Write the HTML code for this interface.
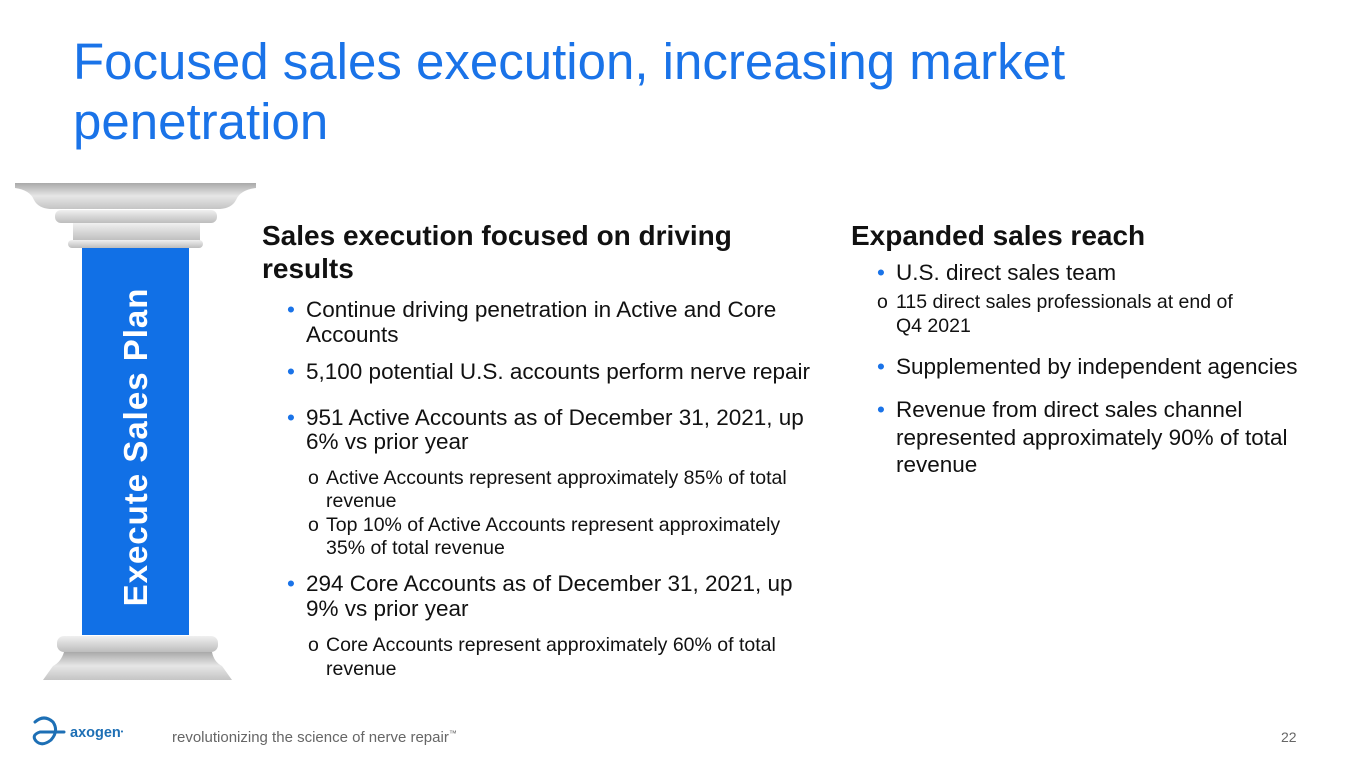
<!DOCTYPE html>
<html><head><meta charset="utf-8"><style>
body{margin:0;width:1365px;height:768px;background:#fff;position:relative;overflow:hidden;font-family:"Liberation Sans",Arial,sans-serif;}
.a{position:absolute;white-space:nowrap;line-height:24px;color:#111;}
.t{position:absolute;left:73px;color:#1a73e8;font-size:51px;line-height:60px;white-space:nowrap;}
.h{font-weight:bold;font-size:28px;}
.b{font-size:22.5px;}
.s{font-size:19.5px;}
.d{color:#1a73e8;}
</style></head><body>
<div class="t" style="top:32px">Focused sales execution, increasing market</div>
<div class="t" style="top:92px">penetration</div>

<svg style="position:absolute;left:0;top:0" width="270" height="768">
<defs>
<linearGradient id="g" x1="0" y1="0" x2="0" y2="1"><stop offset="0" stop-color="#a9a9a9"/><stop offset="0.5" stop-color="#e6e6e6"/><stop offset="1" stop-color="#c4c4c4"/></linearGradient>
<linearGradient id="g2" x1="0" y1="0" x2="0" y2="1"><stop offset="0" stop-color="#f0f0f0"/><stop offset="1" stop-color="#bdbdbd"/></linearGradient>
</defs>
<path d="M15 183 H256 V188 Q240 190 236 200 Q232 208 220 209 H50 Q38 208 34 200 Q30 190 15 188 Z" fill="url(#g)"/>
<rect x="55" y="210" width="162" height="13" rx="6" fill="url(#g2)"/>
<rect x="73" y="223" width="127" height="18" fill="url(#g2)"/>
<rect x="68" y="240" width="135" height="8" rx="4" fill="url(#g2)"/>
<rect x="82" y="248" width="107" height="387" fill="#1170e6"/>
<rect x="57" y="636" width="161" height="16" rx="7" fill="url(#g2)"/>
<path d="M64 652 H212 Q214 662 222 666 L232 680 H43 L53 666 Q61 662 64 652 Z" fill="url(#g)"/>
<text transform="translate(147,447) rotate(-90)" text-anchor="middle" font-family="Liberation Sans" font-weight="bold" font-size="33" fill="#fff" letter-spacing="1">Execute Sales Plan</text>
</svg>

<div class="a h" style="left:262px;top:221px;line-height:30px">Sales execution focused on driving</div>
<div class="a h" style="left:262px;top:254px;line-height:30px">results</div>
<div class="a b d" style="left:287px;top:298px">•</div>
<div class="a b" style="left:306px;top:298px">Continue driving penetration in Active and Core</div>
<div class="a b" style="left:306px;top:323px">Accounts</div>
<div class="a b d" style="left:287px;top:360px">•</div>
<div class="a b" style="left:306px;top:360px">5,100 potential U.S. accounts perform nerve repair</div>
<div class="a b d" style="left:287px;top:406px">•</div>
<div class="a b" style="left:306px;top:406px">951 Active Accounts as of December 31, 2021, up</div>
<div class="a b" style="left:306px;top:430px">6% vs prior year</div>
<div class="a s" style="left:308px;top:466px">o</div>
<div class="a s" style="left:326px;top:466px">Active Accounts represent approximately 85% of total</div>
<div class="a s" style="left:326px;top:489px">revenue</div>
<div class="a s" style="left:308px;top:513px">o</div>
<div class="a s" style="left:326px;top:513px">Top 10% of Active Accounts represent approximately</div>
<div class="a s" style="left:326px;top:536px">35% of total revenue</div>
<div class="a b d" style="left:287px;top:572px">•</div>
<div class="a b" style="left:306px;top:572px">294 Core Accounts as of December 31, 2021, up</div>
<div class="a b" style="left:306px;top:597px">9% vs prior year</div>
<div class="a s" style="left:308px;top:633px">o</div>
<div class="a s" style="left:326px;top:633px">Core Accounts represent approximately 60% of total</div>
<div class="a s" style="left:326px;top:657px">revenue</div>

<div class="a h" style="left:851px;top:221px;line-height:30px">Expanded sales reach</div>
<div class="a b d" style="left:877px;top:261px">•</div>
<div class="a b" style="left:896px;top:261px">U.S. direct sales team</div>
<div class="a s" style="left:877px;top:290px;font-size:19.5px">o</div>
<div class="a s" style="left:896px;top:290px;font-size:19.5px">115 direct sales professionals at end of</div>
<div class="a s" style="left:896px;top:314px;font-size:19.5px">Q4 2021</div>
<div class="a b d" style="left:877px;top:355px">•</div>
<div class="a b" style="left:896px;top:355px">Supplemented by independent agencies</div>
<div class="a b d" style="left:877px;top:398px">•</div>
<div class="a b" style="left:896px;top:398px">Revenue from direct sales channel</div>
<div class="a b" style="left:896px;top:426px">represented approximately 90% of total</div>
<div class="a b" style="left:896px;top:453px">revenue</div>

<svg style="position:absolute;left:30px;top:714px" width="40" height="36">
<path d="M5 8 Q14 0 23 8 Q29 17 21 26 Q12 33 6 27 Q1 21 10 18 H34" fill="none" stroke="#1d6fb5" stroke-width="3" stroke-linecap="round"/>
</svg>
<div class="a" style="left:70px;top:721px;font-size:14.5px;font-weight:bold;color:#1d6fb5">axogen<span style="font-size:7px;vertical-align:top">•</span></div>
<div class="a" style="left:172px;top:722px;font-size:15px;color:#666">revolutionizing the science of nerve repair<sup style="font-size:8px">™</sup></div>
<div class="a" style="left:1281px;top:725px;font-size:14px;color:#666">22</div>
</body></html>
